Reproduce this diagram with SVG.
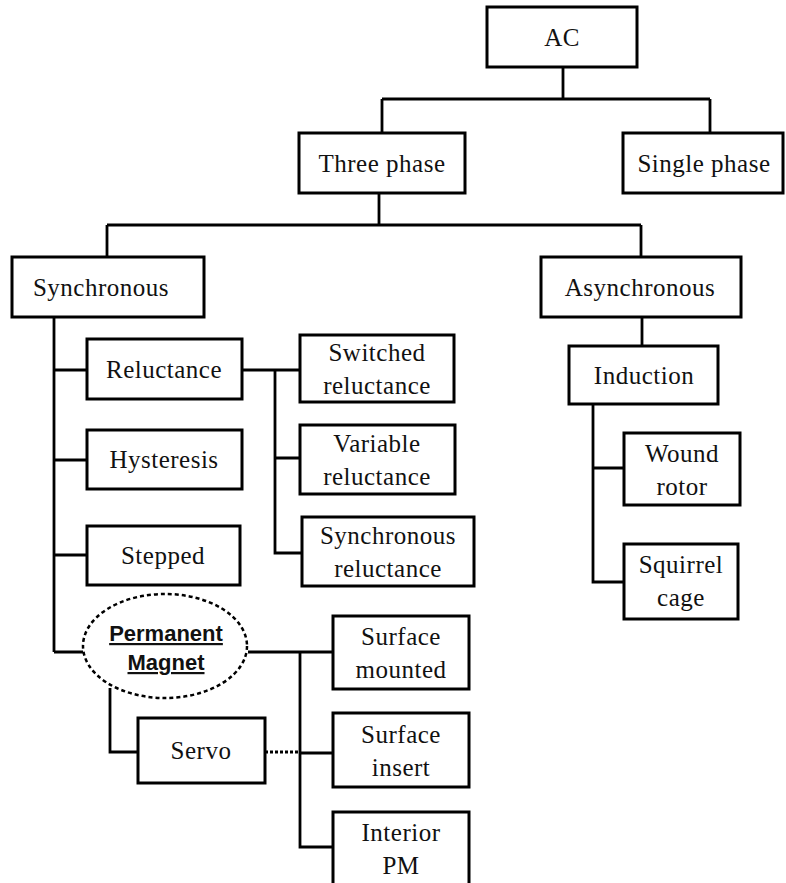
<svg xmlns="http://www.w3.org/2000/svg" width="786" height="883" viewBox="0 0 786 883">
  <style>
    .box { fill: #fff; stroke: #000; stroke-width: 3; }
    .lbl { font-family: "Liberation Serif", "Times New Roman", serif; font-size: 25px; letter-spacing: 0.5px; fill: #111; text-anchor: middle; }
    .pm { font-family: "Liberation Sans", Arial, sans-serif; font-size: 22px; font-weight: bold; fill: #111; text-anchor: middle; text-decoration: underline; }
    .wire { fill: none; stroke: #000; stroke-width: 2.8; }
    .dot { fill: none; stroke: #000; stroke-width: 3; stroke-dasharray: 3 2; }
    .oval { fill: #fff; stroke: #000; stroke-width: 2.5; stroke-dasharray: 4 3; }
  </style>

  <!-- connectors -->
  <g id="connectors">
    <path class="wire" d="M563 67 V99 M382 99 H710 M382 99 V133 M710 99 V133"/>
    <path class="wire" d="M379 193 V225 M107 225 H641 M107 225 V257 M641 225 V257"/>
    <path class="wire" d="M54 317 V652 M54 370 H87 M54 460 H87 M54 555 H87 M54 652 H83"/>
    <path class="wire" d="M242 370 H300 M275 370 V553 H302 M275 458 H300"/>
    <path class="wire" d="M248 652 H333 M300 652 V847 H333 M300 753 H333"/>
    <path class="wire" d="M110 688 V752 H138"/>
    <path class="dot" d="M265 752 H300"/>
    <path class="wire" d="M642 317 V346 M593 404 V582 H624 M593 468 H624"/>
  </g>

  <g id="ac"><rect class="box" x="487" y="7" width="150" height="60"/><text class="lbl" x="562" y="46">AC</text></g>
  <g id="three-phase"><rect class="box" x="299" y="133" width="166" height="60"/><text class="lbl" x="382" y="172">Three phase</text></g>
  <g id="single-phase"><rect class="box" x="623" y="133" width="160" height="60"/><text class="lbl" x="704" y="172">Single phase</text></g>

  <g id="synchronous"><rect class="box" x="12" y="257" width="192" height="60"/><text class="lbl" x="101" y="296">Synchronous</text></g>
  <g id="asynchronous"><rect class="box" x="541" y="257" width="200" height="60"/><text class="lbl" x="640" y="296">Asynchronous</text></g>

  <g id="reluctance"><rect class="box" x="87" y="339" width="155" height="60"/><text class="lbl" x="164" y="378">Reluctance</text></g>
  <g id="hysteresis"><rect class="box" x="87" y="430" width="155" height="59"/><text class="lbl" x="164" y="468">Hysteresis</text></g>
  <g id="stepped"><rect class="box" x="87" y="526" width="153" height="59"/><text class="lbl" x="163" y="564">Stepped</text></g>

  <g id="switched-reluctance"><rect class="box" x="300" y="335" width="154" height="67"/><text class="lbl" x="377" y="361">Switched</text><text class="lbl" x="377" y="394">reluctance</text></g>
  <g id="variable-reluctance"><rect class="box" x="300" y="425" width="155" height="69"/><text class="lbl" x="377" y="452">Variable</text><text class="lbl" x="377" y="485">reluctance</text></g>
  <g id="synchronous-reluctance"><rect class="box" x="302" y="517" width="172" height="69"/><text class="lbl" x="388" y="544">Synchronous</text><text class="lbl" x="388" y="577">reluctance</text></g>

  <g id="permanent-magnet"><ellipse class="oval" cx="165" cy="646" rx="82" ry="52"/><text class="pm" x="166" y="641">Permanent</text><text class="pm" x="166" y="670">Magnet</text></g>
  <g id="servo"><rect class="box" x="138" y="718" width="127" height="65"/><text class="lbl" x="201" y="759">Servo</text></g>

  <g id="surface-mounted"><rect class="box" x="333" y="616" width="136" height="73"/><text class="lbl" x="401" y="645">Surface</text><text class="lbl" x="401" y="678">mounted</text></g>
  <g id="surface-insert"><rect class="box" x="333" y="713" width="136" height="74"/><text class="lbl" x="401" y="743">Surface</text><text class="lbl" x="401" y="776">insert</text></g>
  <g id="interior-pm"><rect class="box" x="333" y="812" width="136" height="80"/><text class="lbl" x="401" y="841">Interior</text><text class="lbl" x="401" y="874">PM</text></g>

  <g id="induction"><rect class="box" x="569" y="346" width="149" height="58"/><text class="lbl" x="644" y="384">Induction</text></g>
  <g id="wound-rotor"><rect class="box" x="624" y="433" width="116" height="72"/><text class="lbl" x="682" y="462">Wound</text><text class="lbl" x="682" y="495">rotor</text></g>
  <g id="squirrel-cage"><rect class="box" x="624" y="544" width="114" height="75"/><text class="lbl" x="681" y="573">Squirrel</text><text class="lbl" x="681" y="606">cage</text></g>
</svg>
